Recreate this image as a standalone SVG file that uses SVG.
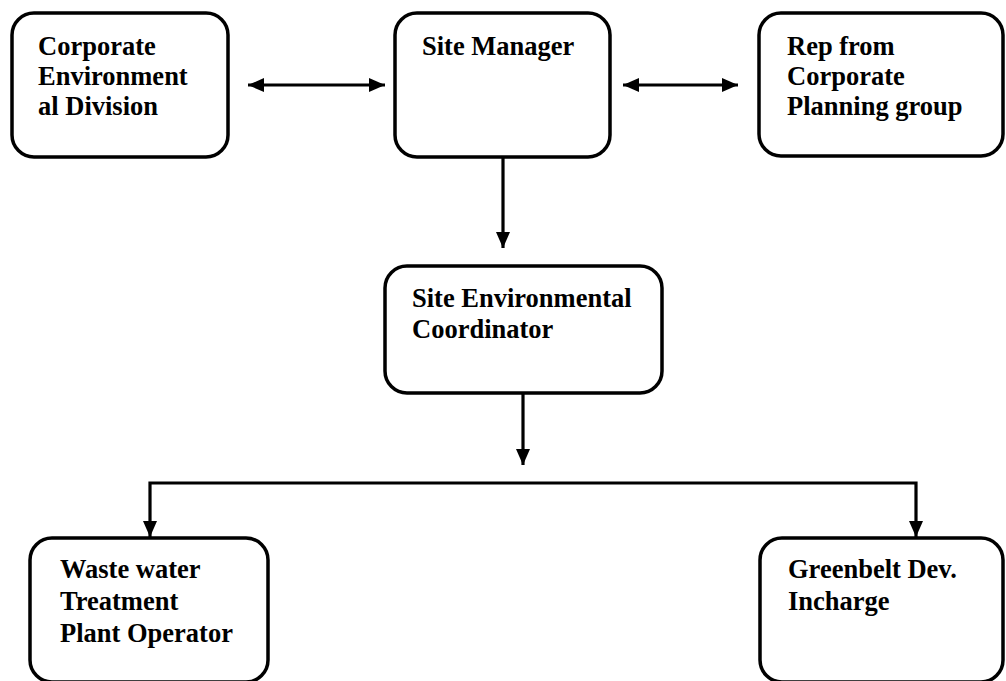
<svg xmlns="http://www.w3.org/2000/svg" width="1006" height="681" viewBox="0 0 1006 681">
<style>
.box{fill:#fff;stroke:#000;stroke-width:3.5}
.lbl{font-family:"Liberation Serif","Times New Roman",serif;font-weight:bold;font-size:26.5px;fill:#000}
.con{fill:none;stroke:#000;stroke-width:3.2}
</style>
<defs>
<marker id="ah" markerUnits="userSpaceOnUse" markerWidth="16" markerHeight="14" refX="16" refY="7" orient="auto-start-reverse" viewBox="0 0 16 14">
<path d="M0,0 L16,7 L0,14 z" fill="#000"/>
</marker>
</defs>
<rect width="1006" height="681" fill="#fff"/>
<g id="connectors">
<line class="con" x1="248" y1="85" x2="385" y2="85" marker-start="url(#ah)" marker-end="url(#ah)"/>
<line class="con" x1="623" y1="85" x2="738" y2="85" marker-start="url(#ah)" marker-end="url(#ah)"/>
<line class="con" x1="503" y1="157" x2="503" y2="248" marker-end="url(#ah)"/>
<line class="con" x1="523" y1="393" x2="523" y2="465" marker-end="url(#ah)"/>
<polyline class="con" points="150,537 150,483 916,483 916,537" marker-start="url(#ah)" marker-end="url(#ah)"/>
</g>
<g id="corporate-env">
<rect class="box" x="12" y="13" width="216" height="144" rx="22"/>
<text class="lbl"><tspan x="38" y="55">Corporate</tspan><tspan x="38" y="85">Environment</tspan><tspan x="38" y="115">al Division</tspan></text>
</g>
<g id="site-manager">
<rect class="box" x="395" y="13" width="215" height="144" rx="22"/>
<text class="lbl" x="422" y="55">Site Manager</text>
</g>
<g id="rep-planning">
<rect class="box" x="759" y="13" width="244" height="143" rx="22"/>
<text class="lbl"><tspan x="787" y="55">Rep from</tspan><tspan x="787" y="85">Corporate</tspan><tspan x="787" y="115">Planning group</tspan></text>
</g>
<g id="site-env-coord">
<rect class="box" x="385" y="266" width="277" height="127" rx="22"/>
<text class="lbl"><tspan x="412" y="307">Site Environmental</tspan><tspan x="412" y="338">Coordinator</tspan></text>
</g>
<g id="wwtp-operator">
<rect class="box" x="30" y="538" width="238" height="144" rx="22"/>
<text class="lbl"><tspan x="60" y="578">Waste water</tspan><tspan x="60" y="610">Treatment</tspan><tspan x="60" y="642">Plant Operator</tspan></text>
</g>
<g id="greenbelt">
<rect class="box" x="760" y="538" width="243" height="144" rx="22"/>
<text class="lbl"><tspan x="788" y="578">Greenbelt Dev.</tspan><tspan x="788" y="610">Incharge</tspan></text>
</g>
</svg>
